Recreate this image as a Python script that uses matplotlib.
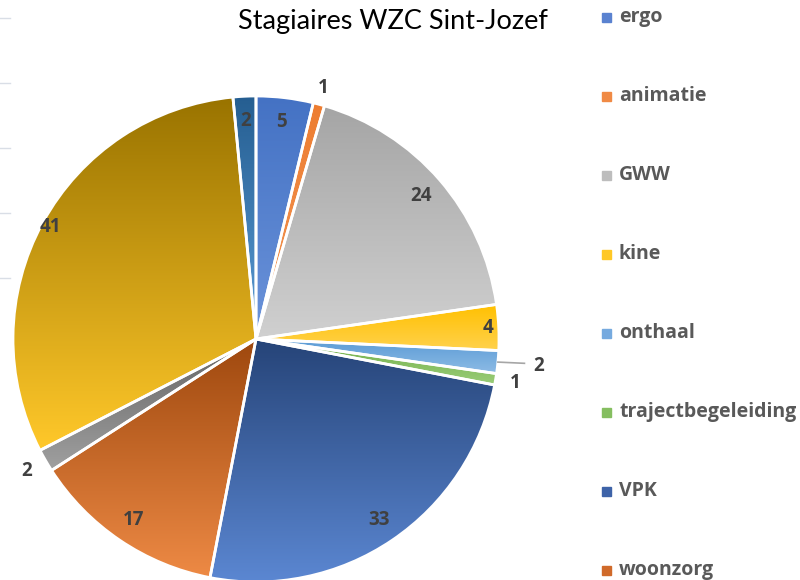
import numpy as np
import matplotlib
matplotlib.use("Agg")
import matplotlib.pyplot as plt
from matplotlib.colors import LinearSegmentedColormap

# Data
categories = ["ergo", "animatie", "GWW", "kine", "onthaal", "trajectbegeleiding",
              "VPK", "woonzorg", "extra 1", "extra 2", "extra 3"]
values = [5, 1, 24, 4, 2, 1, 33, 17, 2, 41, 2]

# kleuren: boven (donker) -> onder (licht)
top_colors = ["#4472C4", "#ED7D31", "#A5A5A5", "#FFC000", "#5B9BD5", "#70AD47",
              "#264478", "#9E480E", "#636363", "#997300", "#255E91"]
bottom_colors = ["#6B93DA", "#F29656", "#D0D0D0", "#FFD24D", "#8EBCE6", "#9ACD78",
                 "#5B87D2", "#EE8A45", "#A0A0A0", "#FFC82A", "#5B9BD5"]
legend_colors = ["#5A82D0", "#F08A45", "#BDBDBD", "#FFC826", "#76AADF", "#85BE60",
                 "#3E63A8", "#D06A2A"]
label_r = [0.90, 1.07, 0.90, 0.955, 1.17, 1.08, 0.90, 0.90, 1.09, 0.965, 0.90]

fig = plt.figure(figsize=(8, 5.8), dpi=100)

# pie axes (center ~ (256, 339) px, radius ~243 px)
ax = fig.add_axes([13 / 800, -2 / 580, 486 / 800, 486 / 580])
wedges, _ = ax.pie(values, startangle=90, counterclock=False, radius=1,
                   colors=top_colors,
                   wedgeprops=dict(edgecolor="white", linewidth=2))

grad = np.linspace(0, 1, 256)[:, None]
for w, c0, c1 in zip(wedges, top_colors, bottom_colors):
    bb = w.get_path().get_extents()
    cmap = LinearSegmentedColormap.from_list("g", [c1, c0])
    im = ax.imshow(grad, cmap=cmap, origin="lower", aspect="auto",
                   extent=(bb.x0, bb.x1, bb.y0, bb.y1), zorder=1)
    im.set_clip_path(w)
    w.set_facecolor("none")
    w.set_zorder(2)

# labels
total = sum(values)
cum = np.cumsum(values) - np.array(values) / 2
for v, c, r in zip(values, cum, label_r):
    ang = np.deg2rad(90 - 360 * c / total)
    x, y = r * np.cos(ang), r * np.sin(ang)
    ax.text(x, y, str(v), ha="center", va="center", fontsize=13.5,
            fontweight="bold", color="#404040", family="Open Sans", zorder=5)
    if r > 1.12:
        y0 = 1.0 * np.sin(ang)
        ax.plot([1.0 * np.cos(ang), x - 0.06], [y0, y0 - 0.005],
                color="#A6A6A6", lw=1.2, zorder=4, clip_on=False)

ax.set_xlim(-1, 1)
ax.set_ylim(-1, 1)
ax.axis("off")

# titel
fig.text(393 / 800, 1 - 22 / 580, "Stagiaires WZC Sint-Jozef", ha="center",
         va="center", fontsize=19.5, family="Lato", color="#000000")

# legende (alleen wat in beeld past)
for i, (name, col) in enumerate(zip(categories[:8], legend_colors)):
    ypx = 17 + i * 79
    fig.patches.append(plt.Rectangle((602 / 800, 1 - (ypx + 5) / 580), 9 / 800, 9 / 580,
                                     transform=fig.transFigure, color=col))
    fig.text(619 / 800, 1 - ypx / 580, name, ha="left", va="center", fontsize=14,
             fontweight="bold", family="Open Sans", color="#595959")

# restjes van rasterlijnen links
for ypx in [18, 83, 148, 213, 278]:
    fig.add_artist(plt.Line2D([0, 10 / 800], [1 - ypx / 580] * 2,
                              color="#D9DEE6", lw=1, transform=fig.transFigure))

fig.savefig("out.png", dpi=100, facecolor="white")
